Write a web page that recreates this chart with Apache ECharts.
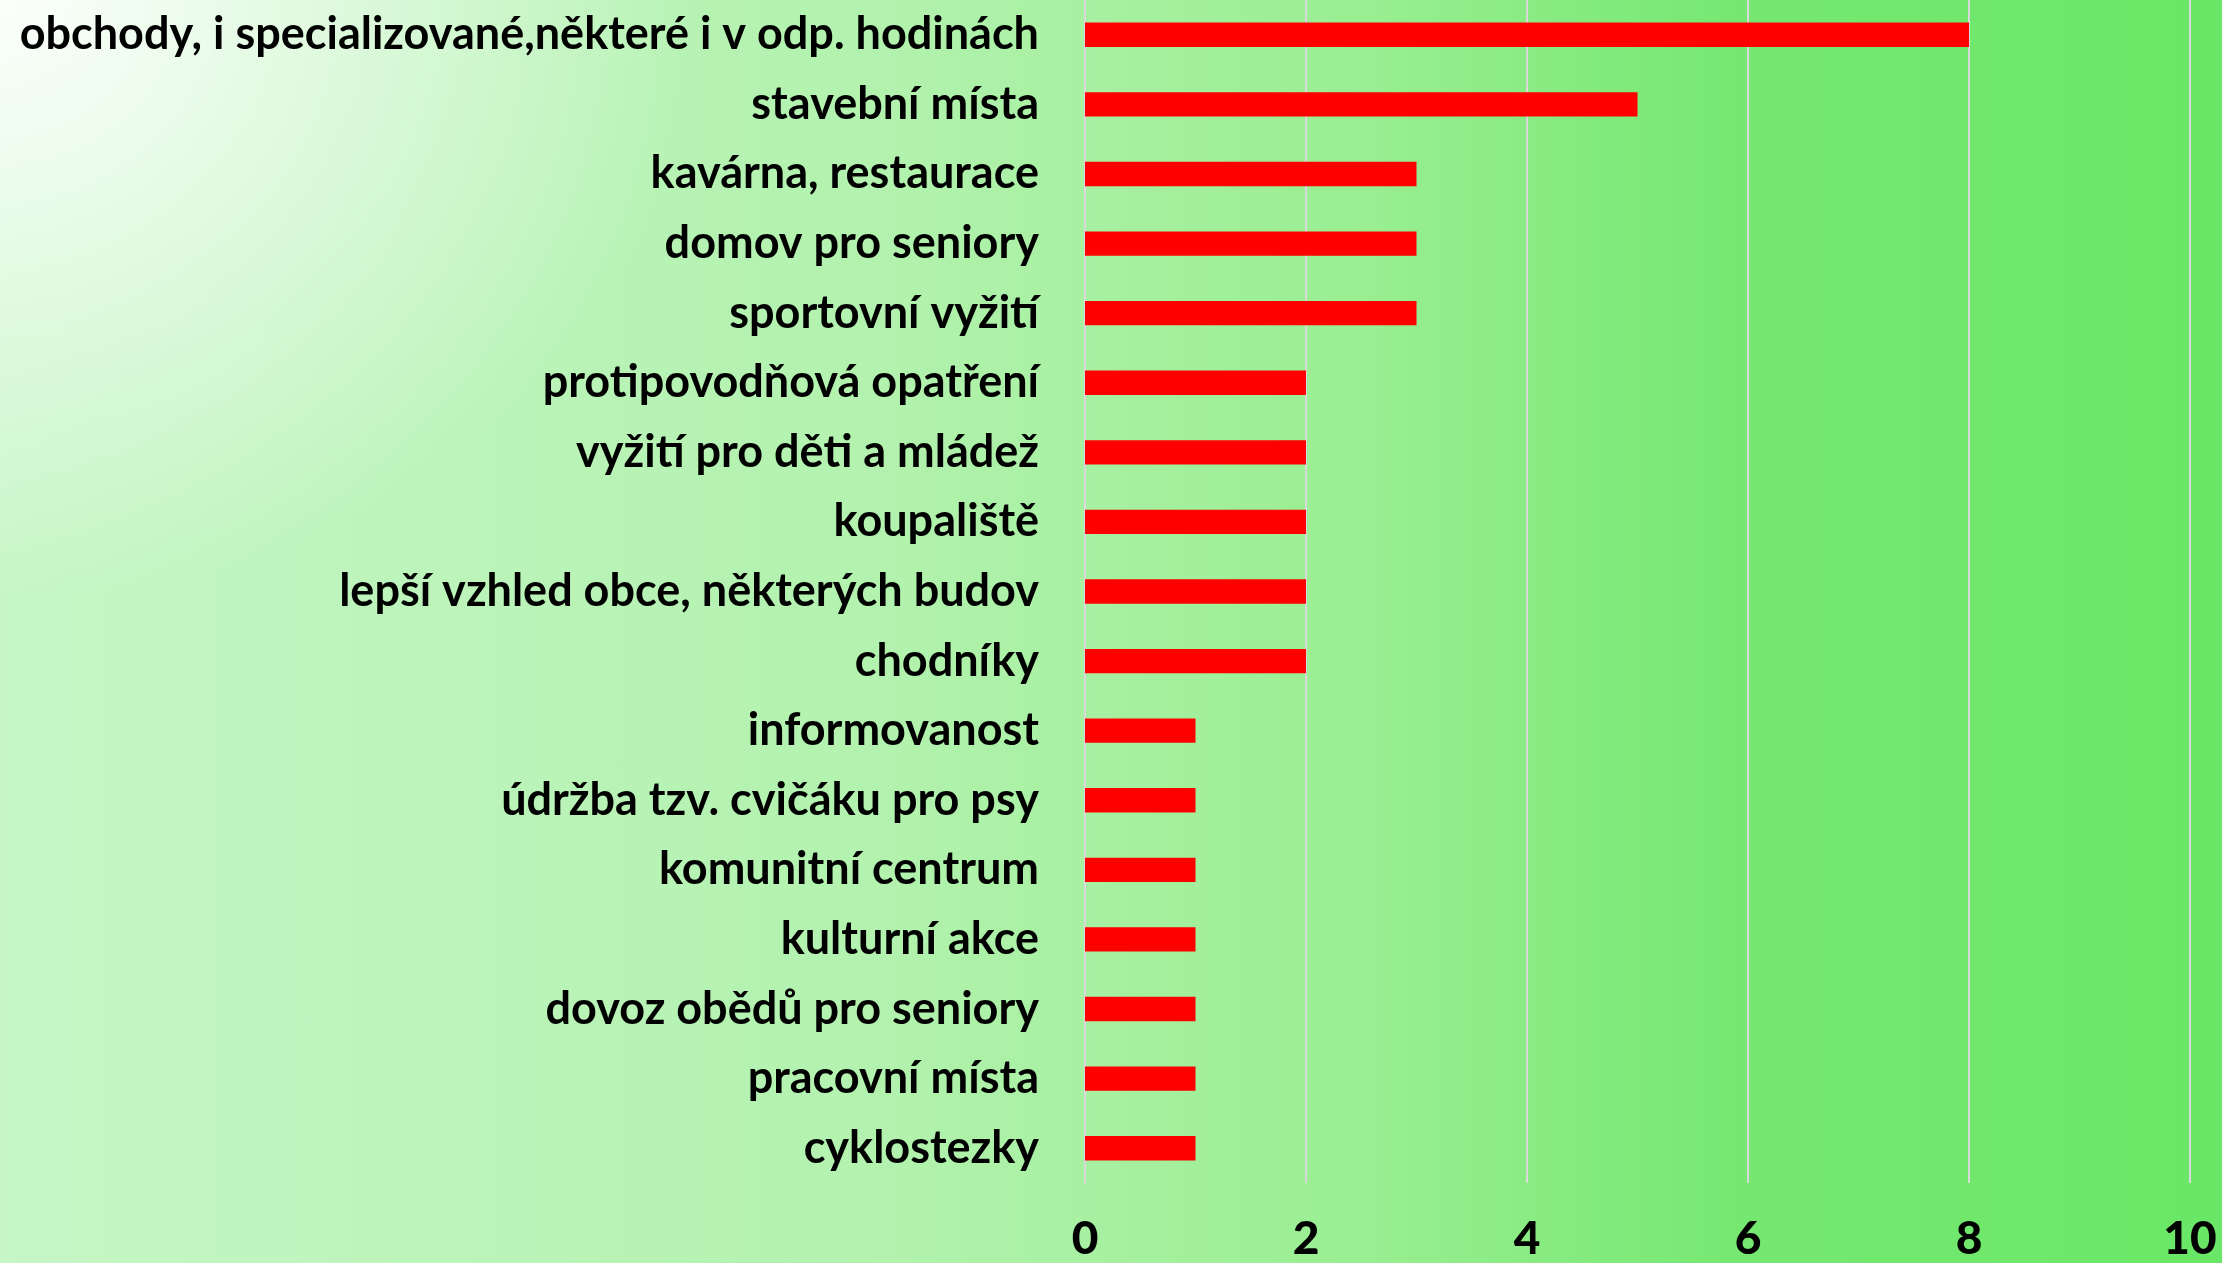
<!DOCTYPE html>
<html>
<head>
<meta charset="utf-8">
<script src="https://cdn.jsdelivr.net/npm/echarts@6/dist/echarts.min.js"></script>
<style>
  html, body { margin: 0; padding: 0; }
  #chart {
    width: 2222px;
    height: 1263px;
    background:
      radial-gradient(ellipse 700px 600px at 0px 0px, rgba(255,255,255,0.95) 0%, rgba(255,255,255,0) 100%),
      linear-gradient(to right, #c6f6c6 0%, #b2f2ae 40%, #98ee90 62%, #76e872 78%, #6ae766 100%);
  }
</style>
</head>
<body>
<div id="chart"></div>
<script>
var categories = [
  'obchody, i specializované,některé i v odp. hodinách',
  'stavební místa',
  'kavárna, restaurace',
  'domov pro seniory',
  'sportovní vyžití',
  'protipovodňová opatření',
  'vyžití pro děti a mládež',
  'koupaliště',
  'lepší vzhled obce, některých budov',
  'chodníky',
  'informovanost',
  'údržba tzv. cvičáku pro psy',
  'komunitní centrum',
  'kulturní akce',
  'dovoz obědů pro seniory',
  'pracovní místa',
  'cyklostezky'
]
var values = [8, 5, 3, 3, 3, 2, 2, 2, 2, 2, 1, 1, 1, 1, 1, 1, 1]

var chart = echarts.init(document.getElementById('chart'))
var option = {
  backgroundColor: 'transparent',
  animation: false,
  grid: {
    left: 1085,
    right: 32,
    top: 0,
    bottom: 80,
    outerBoundsMode: 'none'
  },
  xAxis: {
    type: 'value',
    min: 0,
    max: 10,
    interval: 2,
    axisLine: { show: false },
    axisTick: { show: false },
    splitLine: { lineStyle: { color: '#d9d9d9', width: 2 } },
    axisLabel: {
      margin: 33,
      color: '#000',
      fontFamily: 'Lato',
      fontWeight: 900,
      fontSize: 46
    }
  },
  yAxis: {
    type: 'category',
    inverse: true,
    data: categories,
    axisLine: { show: true, lineStyle: { color: '#d9d9d9', width: 2 } },
    axisTick: { show: false },
    axisLabel: {
      margin: 46,
      color: '#000',
      fontFamily: 'Lato',
      fontWeight: 'bold',
      fontSize: 45
    }
  },
  series: [
    {
      type: 'bar',
      data: values,
      barWidth: '35%',
      itemStyle: { color: '#ff0000' }
    }
  ]
}
chart.setOption(option)
</script>
</body>
</html>
